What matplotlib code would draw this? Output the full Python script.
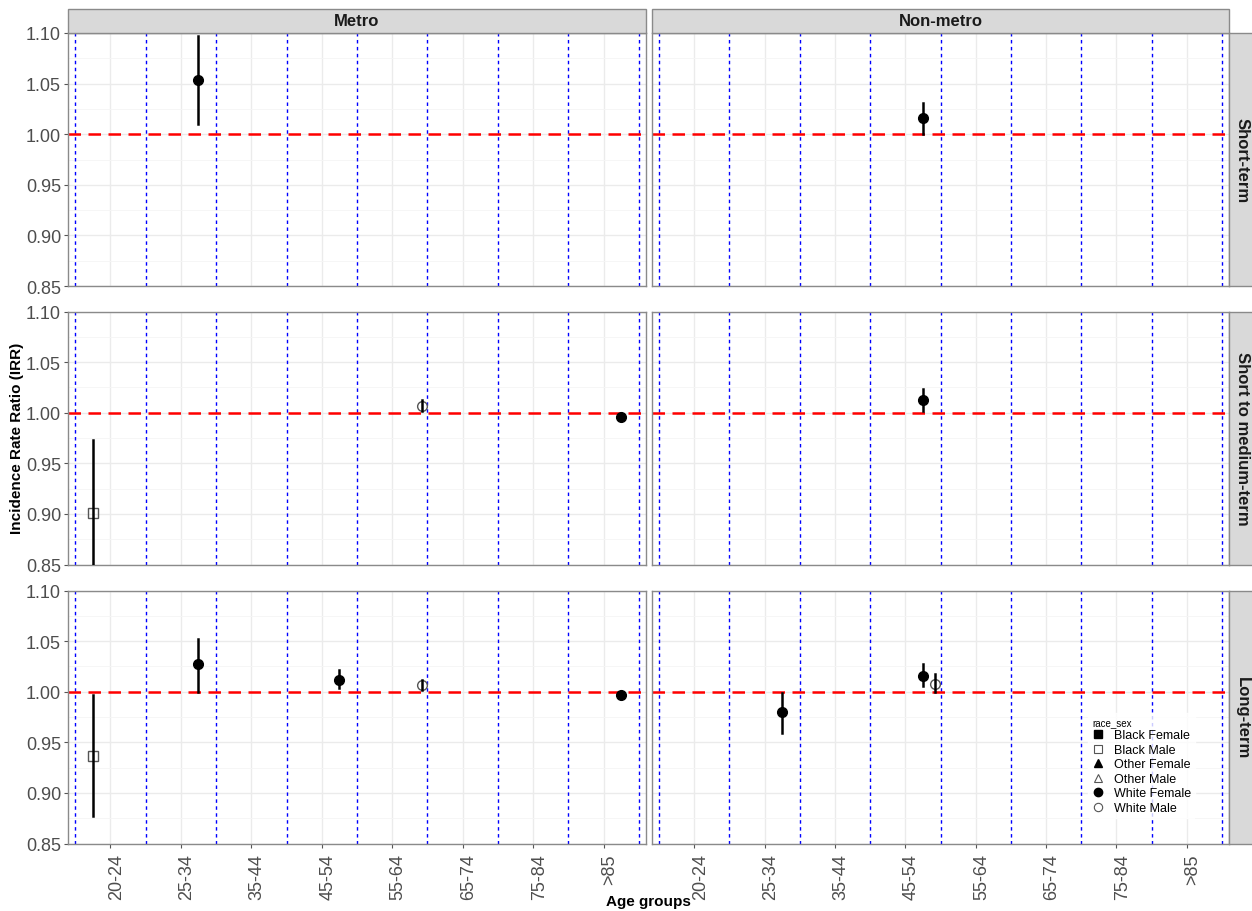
import numpy as np
import matplotlib
matplotlib.use("Agg")
import matplotlib.pyplot as plt
import matplotlib.transforms as mtrans
from matplotlib.lines import Line2D

plt.rcParams['font.family'] = ['Liberation Sans', 'DejaVu Sans']

ages = ['20-24', '25-34', '35-44', '45-54', '55-64', '65-74', '75-84', '>85']
groups = ['Black Female', 'Black Male', 'Other Female', 'Other Male', 'White Female', 'White Male']
areas = ['Metro', 'Non-metro']
periods = ['Short-term', 'Short to medium-term', 'Long-term']

# estimates
pt_area = ['Metro', 'Non-metro',
           'Metro', 'Metro', 'Metro', 'Non-metro',
           'Metro', 'Metro', 'Metro', 'Metro', 'Metro',
           'Non-metro', 'Non-metro', 'Non-metro']
pt_period = ['Short-term', 'Short-term',
             'Short to medium-term', 'Short to medium-term', 'Short to medium-term', 'Short to medium-term',
             'Long-term', 'Long-term', 'Long-term', 'Long-term', 'Long-term',
             'Long-term', 'Long-term', 'Long-term']
pt_age = ['25-34', '45-54',
          '20-24', '55-64', '>85', '45-54',
          '20-24', '25-34', '45-54', '55-64', '>85',
          '25-34', '45-54', '45-54']
pt_group = ['White Female', 'White Female',
            'Black Male', 'White Male', 'White Female', 'White Female',
            'Black Male', 'White Female', 'White Female', 'White Male', 'White Female',
            'White Female', 'White Female', 'White Male']
pt_irr = [1.054, 1.016,
          0.901, 1.007, 0.996, 1.013,
          0.936, 1.027, 1.012, 1.007, 0.997,
          0.980, 1.016, 1.008]
pt_lo = [1.010, 1.000,
         0.830, 1.002, 0.995, 1.002,
         0.877, 1.000, 1.004, 1.002, 0.995,
         0.959, 1.006, 1.000]
pt_hi = [1.097, 1.031,
         0.973, 1.013, 0.998, 1.023,
         0.997, 1.052, 1.021, 1.012, 0.999,
         0.999, 1.027, 1.017]

shape_map = {'Black Female': ('s', True), 'Black Male': ('s', False),
             'Other Female': ('^', True), 'Other Male': ('^', False),
             'White Female': ('o', True), 'White Male': ('o', False)}

W, H = 1252, 912
fig = plt.figure(figsize=(W / 100, H / 100), dpi=100)

col_x = [(68, 646), (652, 1229)]
row_y = [(34, 287), (312.5, 565.5), (591.5, 844.5)]

grey_txt = '#4d4d4d'
axes = {}
for r, per in enumerate(periods):
    for c, ar in enumerate(areas):
        x0, x1 = col_x[c]
        y0, y1 = row_y[r]
        ax = fig.add_axes([x0 / W, 1 - y1 / H, (x1 - x0) / W, (y1 - y0) / H])
        axes[(ar, per)] = ax
        ax.set_xlim(0.4, 8.6)
        ax.set_ylim(0.85, 1.10)
        ax.set_yticks(np.arange(0.85, 1.101, 0.05))
        ax.set_yticks(np.arange(0.875, 1.1, 0.05), minor=True)
        ax.set_xticks(range(1, 9))
        ax.grid(True, which='major', color='#ebebeb', lw=1)
        ax.grid(True, which='minor', axis='y', color='#f5f5f5', lw=0.6)
        ax.set_axisbelow(True)
        for s in ax.spines.values():
            s.set_color('#8a8a8a')
            s.set_linewidth(1)
        ax.tick_params(which='minor', length=0)
        ax.tick_params(which='major', length=3, color='#555555', labelsize=13,
                       labelcolor=grey_txt, pad=2)
        if c == 0:
            ax.set_yticklabels(['%.2f' % v for v in np.arange(0.85, 1.101, 0.05)])
        else:
            ax.set_yticklabels([])
            ax.tick_params(axis='y', length=0)
        if r == 2:
            ax.set_xticklabels(ages, rotation=90)
            ax.tick_params(axis='x', pad=4)
            shift = mtrans.ScaledTranslation(6 / 100, 0, fig.dpi_scale_trans)
            for lab in ax.get_xticklabels():
                lab.set_transform(lab.get_transform() + shift)
        else:
            ax.set_xticklabels([])
            ax.tick_params(axis='x', length=0)

        # boundary lines between age groups
        for xv in np.arange(0.5, 9.0, 1.0):
            ax.axvline(xv, color='#0000ff', lw=1, ls=(0, (2.5, 2.5)), zorder=1.5)
        ax.axhline(1.0, color='#ff0000', lw=1.8, ls=(0, (5, 3)), zorder=2)

        if r == 0:
            fig.patches.append(plt.Rectangle((x0 / W, 1 - y0 / H), (x1 - x0) / W, 24 / H,
                                             transform=fig.transFigure, facecolor='#d9d9d9',
                                             edgecolor='#8a8a8a', lw=1))
            fig.text((x0 + x1) / 2 / W, 1 - (y0 - 12) / H, ar, ha='center', va='center',
                     fontsize=12, fontweight='bold', color='#1a1a1a')
        if c == 1:
            fig.patches.append(plt.Rectangle((1229 / W, 1 - y1 / H), 24 / W, (y1 - y0) / H,
                                             transform=fig.transFigure, facecolor='#d9d9d9',
                                             edgecolor='#8a8a8a', lw=1))
            fig.text(1242 / W, 1 - (y0 + y1) / 2 / H, per, ha='center', va='center',
                     rotation=270, fontsize=12, fontweight='bold', color='#1a1a1a')

for i in range(len(pt_irr)):
    ax = axes[(pt_area[i], pt_period[i])]
    gi = groups.index(pt_group[i])
    x = ages.index(pt_age[i]) + 1 + (gi - 2.5) / 6
    mk, filled = shape_map[pt_group[i]]
    ax.plot([x, x], [pt_lo[i], pt_hi[i]], color='black', lw=1.8, zorder=4)
    if filled:
        ax.plot(x, pt_irr[i], marker=mk, ms=7, color='black', zorder=5)
    else:
        ax.plot(x, pt_irr[i], marker=mk, ms=7, mfc='none', mec='#555555', mew=1, zorder=3)

handles = []
for g in groups:
    mk, filled = shape_map[g]
    if filled:
        h = Line2D([], [], ls='none', marker=mk, ms=6, color='black')
    else:
        h = Line2D([], [], ls='none', marker=mk, ms=6, mfc='none', mec='#555555', mew=0.8)
    handles.append(h)
leg = fig.legend(handles, groups, title='race_sex', loc='upper left',
                 bbox_to_anchor=(1082 / W, 1 - 708 / H), frameon=True, fontsize=9,
                 title_fontsize=7, handlelength=1.0, handletextpad=0.8, labelspacing=0.2,
                 borderpad=0.3)
leg.get_frame().set_facecolor('white')
leg.get_frame().set_edgecolor('white')
leg._legend_box.align = 'left'

fig.text(17 / W, 1 - 438 / H, 'Incidence Rate Ratio (IRR)', rotation=90, ha='center',
         va='center', fontsize=11, fontweight='bold')
fig.text(648 / W, 1 - 902 / H, 'Age groups', ha='center', va='center',
         fontsize=11, fontweight='bold')

fig.savefig('out.png', dpi=100, facecolor='white')
